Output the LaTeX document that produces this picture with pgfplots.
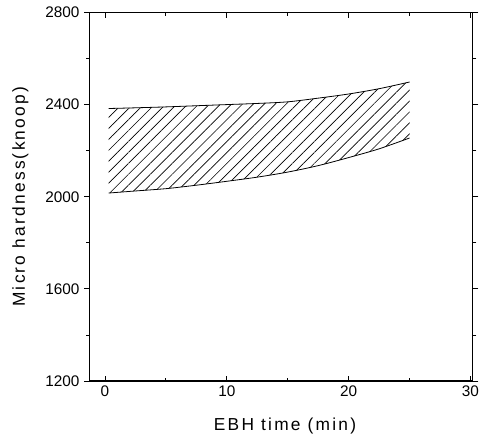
\documentclass[border=0pt]{standalone}
\usepackage{fontspec}
\setmainfont{Liberation Sans}
\newfontfamily\labelfont[LetterSpace=13]{Liberation Sans}
\usepackage{pgfplots}
\pgfplotsset{compat=1.18}
\usepgfplotslibrary{fillbetween}
\usetikzlibrary{patterns.meta}
\begin{document}
\begin{tikzpicture}
\begin{axis}[
  scale only axis,
  width=287.6pt, height=276.4pt,
  xmin=-1.27, xmax=30.2,
  ymin=1200, ymax=2800,
  xtick={0,10,20,30},
  ytick={1200,1600,2000,2400,2800},
  minor x tick num=1,
  minor y tick num=1,
  xtick align=inside,
  ytick align=outside,
  major tick length=4pt,
  minor tick length=2.5pt,
  axis line style={line width=0.8pt},
  every tick/.style={black, line width=0.6pt},
  /pgf/number format/assume math mode=true,
  /pgf/number format/1000 sep={},
  ticklabel style={font=\fontsize{11.5}{13}\selectfont},
  xlabel={EBH time (min)},
  ylabel={Micro hardness(knoop)},
  xlabel style={font=\fontsize{13}{15}\labelfont, at={(axis description cs:0.51,-0.123)}, anchor=center},
  ylabel style={font=\fontsize{13}{15}\labelfont, at={(axis description cs:-0.180,0.5)}, anchor=center},
]
\addplot[name path=U, black, line width=0.6pt, smooth] coordinates {
 (0.3,2383) (2.5,2386) (5,2390) (7.5,2395) (10,2400) (12.5,2405) (15,2412) (17.5,2428) (20,2446) (22.5,2469) (25,2498)};
\addplot[name path=L, black, line width=0.6pt, smooth] coordinates {
 (0.3,2016) (2.5,2025) (5,2035) (7.5,2050) (10,2067) (12.5,2085) (15,2107) (17.5,2135) (20,2170) (22.5,2208) (25,2255)};
\addplot[draw=none, pattern={Lines[angle=45, distance=5.8pt, line width=0.5pt]}] fill between[of=U and L];
\coordinate (SW) at (rel axis cs:0,0);
\end{axis}
\pgfresetboundingbox
\path ([shift={(-67.1pt,-39.75pt)}]SW) rectangle ++(360.75pt,325.5pt);
\end{tikzpicture}
\end{document}
